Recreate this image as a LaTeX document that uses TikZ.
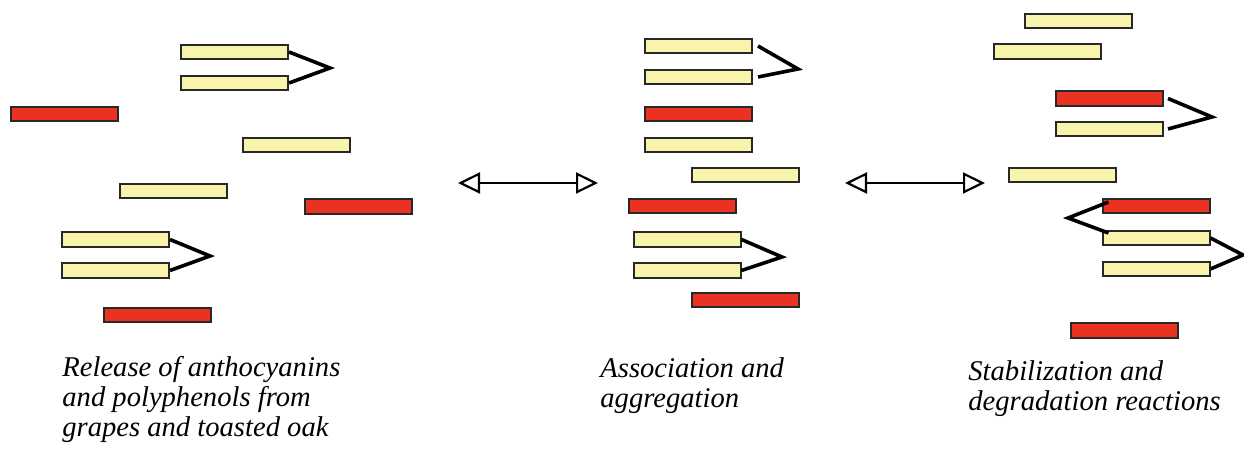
\documentclass[tikz,border=0pt]{standalone}
\usepackage{fontspec}
\setmainfont{Liberation Serif}
\newfontfamily\capfont{Liberation Serif}[ItalicFont={Liberation Serif Italic}]
\usetikzlibrary{arrows.meta}
\definecolor{barred}{RGB}{234,50,34}
\definecolor{baryel}{RGB}{248,244,172}
\definecolor{barline}{RGB}{40,40,40}

\begin{document}
\begin{tikzpicture}[x=0.5pt, y=-0.5pt,
    bar/.style={draw=barline, line width=1pt, minimum width=53.5pt, minimum height=7.2pt, inner sep=0pt},
    poly/.style={bar, fill=baryel},
    anth/.style={bar, fill=barred},
    link/.style={line width=1.8pt, line join=miter},
    swap/.style={line width=1.1pt, {Triangle[open,length=11pt,width=10.5pt]}-{Triangle[open,length=11pt,width=10.5pt]}},
    caption/.style={anchor=north west, inner sep=0pt, align=left, font={\capfont\fontsize{14.3}{15}\selectfont\itshape}}]
      \useasboundingbox (0,0) rectangle (1244,458);
      \node[poly] (la) at (234.5, 52  ) {};
      \node[poly] (lb) at (234.5, 83  ) {};
      \node[anth] (lr1) at ( 64.5,114  ) {};
      \node[poly] (lc) at (296.5,145  ) {};
      \node[poly] (ld) at (173  ,191  ) {};
      \node[anth] (lr2) at (358.5,206.5) {};
      \node[poly] (le) at (115.5,239.5) {};
      \node[poly] (lf) at (115.5,270.5) {};
      \node[anth] (lr3) at (157.5,315  ) {};
      \coordinate (lt1) at (330,68);
      \coordinate (lt2) at (210,256);
      \draw[link] (la.east) -- (lt1) -- (lb.east);
      \draw[link] (le.east) -- (lt2) -- (lf.east);

      \node[poly] (ma) at (698.5, 46  ) {};
      \node[poly] (mb) at (698.5, 77  ) {};
      \node[anth] (mr1) at (698.5,114  ) {};
      \node[poly] (mc) at (698.5,145  ) {};
      \node[poly] (md) at (745.5,175  ) {};
      \node[anth] (mr2) at (682.5,206  ) {};
      \node[poly] (me) at (687  ,239.5) {};
      \node[poly] (mf) at (687  ,270.5) {};
      \node[anth] (mr3) at (745.5,300  ) {};
      \coordinate (mt1) at (798,69);
      \coordinate (mt2) at (782,257);
      \draw[link] ([xshift=2.5pt]ma.east) -- (mt1) -- ([xshift=2.5pt]mb.east);
      \draw[link] (me.east) -- (mt2) -- (mf.east);

      \node[poly] (ra) at (1078  , 21  ) {};
      \node[poly] (rb) at (1047  , 51.5) {};
      \node[anth] (rr1) at (1109.5, 98.5) {};
      \node[poly] (rc) at (1109.5,129  ) {};
      \node[poly] (rd) at (1062.5,175  ) {};
      \node[anth] (rr2) at (1156  ,206  ) {};
      \node[poly] (re) at (1156  ,238  ) {};
      \node[poly] (rf) at (1156  ,269  ) {};
      \node[anth] (rr3) at (1124.5,330.5) {};
      \coordinate (rt1) at (1212,117);
      \coordinate (rt2) at (1068,218);
      \coordinate (rt3) at (1243,255);
      \draw[link] ([xshift=2pt]rr1.east) -- (rt1) -- ([xshift=2pt]rc.east);
      \draw[link] ([xshift=3.5pt,yshift=2pt]rr2.west) -- (rt2) -- ([xshift=3.5pt,yshift=2.5pt]re.west);
      \draw[link] (re.east) -- (rt3) -- (rf.east);

      \coordinate (s1) at (458,183); \coordinate (e1) at (598,183);
      \coordinate (s2) at (845,183); \coordinate (e2) at (985,183);
      \draw[swap] (s1) -- (e1);
      \draw[swap] (s2) -- (e2);

      \node[caption] (release) at (62,355.5) {Release of anthocyanins\\and polyphenols from\\grapes and toasted oak};
      \node[caption] (assoc) at (600,357.5) {Association and\\aggregation};
      \node[caption] (stab) at (968,360.5) {Stabilization and\\degradation reactions};
    \end{tikzpicture}
\end{document}
